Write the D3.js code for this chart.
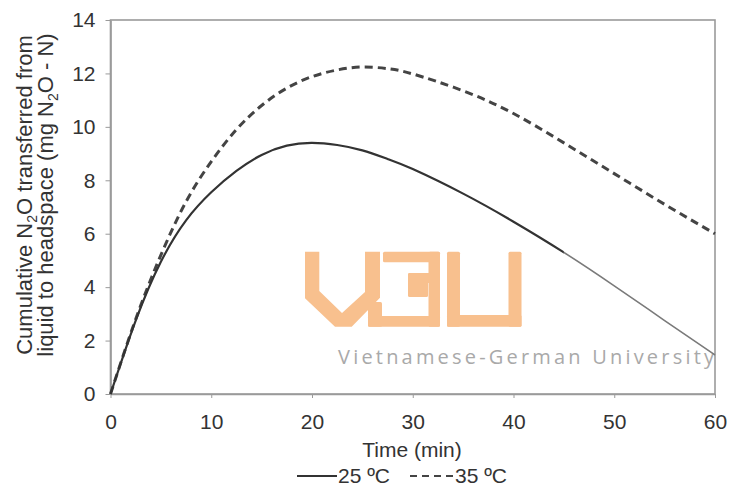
<!DOCTYPE html>
<html><head><meta charset="utf-8">
<script src="https://cdn.jsdelivr.net/npm/d3@7"></script>
<style>body{margin:0;background:#fff}svg{display:block}</style>
</head><body>
<svg id="c" width="729" height="493"></svg>
<script>
const time25 = [0,2.5,5,7.5,10,12.5,15,17.5,20,22.5,25,27.5,30,35,40,45,50,55,60];
const val25  = [0,2.75,4.95,6.5,7.55,8.35,8.95,9.3,9.4,9.32,9.12,8.8,8.42,7.5,6.45,5.3,4.05,2.75,1.46];
const time35 = [0,2.5,5,7.5,10,12.5,15,17.5,20,22.5,25,27.5,30,35,40,45,50,55,60];
const val35  = [0,2.8,5.2,7.2,8.7,9.9,10.8,11.45,11.88,12.13,12.24,12.18,11.98,11.35,10.5,9.4,8.25,7.1,6.0];
const xTicks = [0,10,20,30,40,50,60];
const yTicks = [0,2,4,6,8,10,12,14];
const legendLabels = ["25 ºC","35 ºC"];

const svg = d3.select("#c");
const font = "'Liberation Sans', Arial, sans-serif";
const L = 110.5, R = 715, T = 20, B = 394;
const x = d3.scaleLinear().domain([0,60]).range([L,R]);
const y = d3.scaleLinear().domain([0,14]).range([B,T]);

// watermark (logo)
const wm = svg.append("g").attr("fill","#F8C08E");
const V = [[305,251.7],[319.3,251.7],[319.3,291],[342,313],[365,292],[365,251.7],[380,251.7],[380,297.7],[351.7,326.7],[335,326.7],[305,298.3]];
wm.append("polygon").attr("points", V.map(p=>p.join(",")).join(" "));
[[383,251.7,57,10.5],[428.5,251.7,11.5,75],[408,273,32,10],[408,273,20,24],[368,316,72,10.7],[368,302,14,24.7],
 [447,251.7,13,75],[508.5,251.7,13,75],[447,315,74.5,11.7]].forEach(r=>{
  wm.append("rect").attr("x",r[0]).attr("y",r[1]).attr("width",r[2]).attr("height",r[3]).attr("rx",1.5);
});
svg.append("text").attr("x",338).attr("y",364).attr("font-family","'Open Sans', 'DejaVu Sans', sans-serif")
  .attr("font-size",20).attr("fill","#a9a9a9").attr("textLength",376).attr("lengthAdjust","spacing")
  .text("Vietnamese-German University");

// frame
const axCol = "#9a9a9a";
svg.append("rect").attr("x",L).attr("y",T).attr("width",R-L).attr("height",B-T)
  .attr("fill","none").attr("stroke",axCol).attr("stroke-width",1.6);

// axes
const gx = svg.append("g").attr("transform",`translate(0,${B})`)
  .call(d3.axisBottom(x).tickValues(xTicks).tickSize(4).tickSizeOuter(0).tickPadding(16));
const gy = svg.append("g").attr("transform",`translate(${L},0)`)
  .call(d3.axisLeft(y).tickValues(yTicks).tickSize(5).tickSizeOuter(0).tickPadding(10));
[gx,gy].forEach(g=>{
  g.select(".domain").attr("stroke",axCol).attr("stroke-width",1.6);
  g.selectAll(".tick line").attr("stroke",axCol).attr("stroke-width",1);
  g.selectAll(".tick text").attr("font-family",font).attr("font-size",21).attr("fill","#333");
});

// lines
const line = d3.line().x(d=>x(d[0])).y(d=>y(d[1])).curve(d3.curveNatural);
const d25 = time25.map((t,i)=>[t,val25[i]]);
const d35 = time35.map((t,i)=>[t,val35[i]]);
svg.append("path").attr("d",line(d35)).attr("fill","none").attr("stroke","#444")
  .attr("stroke-width",3).attr("stroke-dasharray","8,5");
const defs = svg.append("defs");
defs.append("clipPath").attr("id","tail").append("rect")
  .attr("x",x(45)).attr("y",T).attr("width",R-x(45)+2).attr("height",B-T);
defs.append("clipPath").attr("id","head").append("rect")
  .attr("x",L-2).attr("y",T-2).attr("width",x(45)-L+2).attr("height",B-T+4);
svg.append("path").attr("d",line(d25)).attr("fill","none").attr("stroke","#333")
  .attr("stroke-width",2.2).attr("clip-path","url(#head)");
svg.append("path").attr("d",line(d25)).attr("fill","none").attr("stroke","#7a7a7a")
  .attr("stroke-width",1.6).attr("clip-path","url(#tail)");

// x title
svg.append("text").attr("x",412).attr("y",457).attr("text-anchor","middle")
  .attr("font-family",font).attr("font-size",21).attr("fill","#333").text("Time (min)");

// y title (two lines)
const yt = svg.append("g").attr("transform","translate(0,195) rotate(-90)");
const l1 = yt.append("text").attr("x",0).attr("y",32).attr("text-anchor","middle")
  .attr("font-family",font).attr("font-size",22).attr("fill","#333");
l1.append("tspan").text("Cumulative N");
l1.append("tspan").attr("font-size",14).attr("dy",5).text("2");
l1.append("tspan").attr("dy",-5).text("O transferred from");
const l2 = yt.append("text").attr("x",0).attr("y",53).attr("text-anchor","middle")
  .attr("font-family",font).attr("font-size",22).attr("fill","#333");
l2.append("tspan").text("liquid to headspace (mg N");
l2.append("tspan").attr("font-size",14).attr("dy",5).text("2");
l2.append("tspan").attr("dy",-5).text("O - N)");

// legend
const lg = svg.append("g");
lg.append("line").attr("x1",297).attr("x2",337).attr("y1",476).attr("y2",476).attr("stroke","#333").attr("stroke-width",2.2);
lg.append("text").attr("x",338).attr("y",483).attr("font-family",font).attr("font-size",21).attr("fill","#333").text(legendLabels[0]);
lg.append("line").attr("x1",410).attr("x2",454).attr("y1",476).attr("y2",476).attr("stroke","#444").attr("stroke-width",2.2).attr("stroke-dasharray","7,5");
lg.append("text").attr("x",455).attr("y",483).attr("font-family",font).attr("font-size",21).attr("fill","#333").text(legendLabels[1]);
</script>
</body></html>
